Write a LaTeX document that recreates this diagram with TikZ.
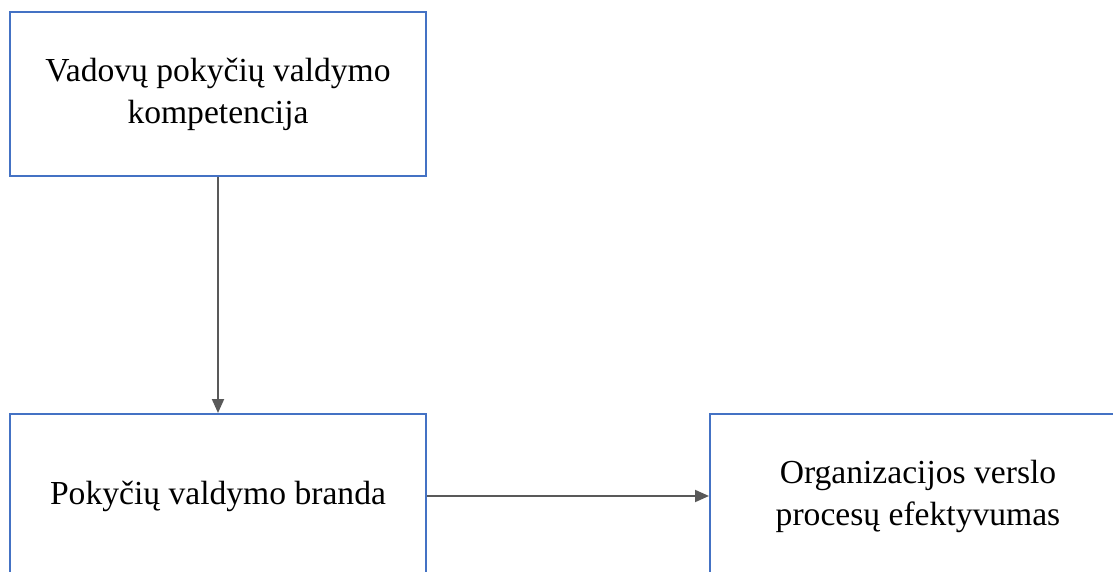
\documentclass[tikz,border=0pt]{standalone}
\usepackage{fontspec}
\setmainfont{Liberation Serif}
\usetikzlibrary{arrows.meta, positioning}

\begin{document}
\begin{tikzpicture}[
    x=0.5pt, y=-0.5pt,
    node distance=118pt and 141pt,
    font=\fontsize{16.8}{21}\selectfont,
    >={Triangle[length=7pt, width=6pt]},
    % --- Styles ---
    block/.style={
        rectangle, minimum width=208pt, minimum height=82pt,
        align=center, inner sep=0pt,
        draw=block_border, line width=1pt, fill=white
    },
    arrow/.style={->, line width=1pt, draw=arrow_gray, fill=arrow_gray}
]

    % ── Colour Palette ──────────────────────────────────────────────────
    \definecolor{block_border}{RGB}{68, 114, 196}
    \definecolor{arrow_gray}{RGB}{89, 89, 89}

    \useasboundingbox (0,0) rectangle (1113,572);
    \clip (0,0) rectangle (1113,572);

    % ── NODES ───────────────────────────────────────────────────────────

    % Competence
    \node (competence) [block] at (218,94)
        {Vadovų pokyčių valdymo\\kompetencija};

    % Maturity
    \node (maturity) [block, below=of competence]
        {Pokyčių valdymo branda};

    % Efficiency
    \node (efficiency) [block, right=of maturity]
        {Organizacijos verslo\\procesų efektyvumas};

    % ── ARROWS ──────────────────────────────────────────────────────────

    \draw [arrow] (competence) -- (maturity);
    \draw [arrow] (maturity)   -- (efficiency);

\end{tikzpicture}
\end{document}
